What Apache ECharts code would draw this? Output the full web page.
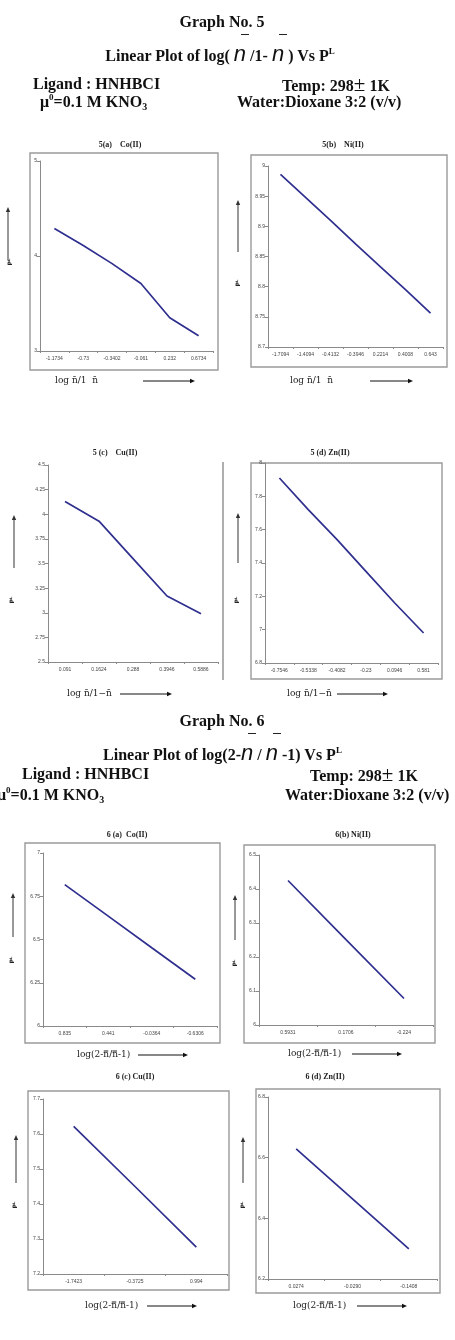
<!DOCTYPE html>
<html>
<head>
<meta charset="utf-8">
<title>Graph No. 5 / Graph No. 6</title>
<script src="https://cdn.jsdelivr.net/npm/echarts@6/dist/echarts.min.js"></script>
<style>
  html, body { margin: 0; padding: 0; background: #fff; }
  #wrap { position: relative; width: 455px; height: 1340px; overflow: hidden; }
  #chart { position: absolute; left: 0; top: 0; width: 455px; height: 1340px; }
  .hd {
    position: absolute; white-space: nowrap; color: #111;
    font-family: 'Liberation Serif', 'Times New Roman', serif;
    font-weight: bold; font-size: 16px; line-height: 18px;
  }
  .n {
    position: relative; font-family: 'Liberation Sans', Arial, sans-serif;
    font-style: italic; font-weight: normal; font-size: 22px;
  }
  .n::before {
    content: ''; position: absolute; left: 7px; top: -7px; width: 8px;
    border-top: 1.5px solid #222;
  }
  .hd sup { font-size: 9px; vertical-align: 7px; line-height: 0; }
  .hd sub { font-size: 10px; vertical-align: -3px; line-height: 0; }
  .pm { font-weight: normal; font-size: 21px; }
</style>
</head>
<body>
<div id="wrap">
  <div id="chart"></div>

  <div class="hd" style="top:13px;left:0;width:444px;text-align:center">Graph No. 5</div>
  <div class="hd" style="top:45px;left:0;width:440px;text-align:center">Linear Plot of log( <span class="n">n</span> /1- <span class="n">n</span> ) Vs P<sup>L</sup></div>
  <div class="hd" style="top:75px;left:33px">Ligand : HNHBCI</div>
  <div class="hd" style="top:75px;left:282px">Temp: 298<span class="pm">±</span> 1K</div>
  <div class="hd" style="top:93px;left:40px">μ<sup>0</sup>=0.1 M KNO<sub>3</sub></div>
  <div class="hd" style="top:93px;left:237px">Water:Dioxane 3:2 (v/v)</div>

  <div class="hd" style="top:712px;left:0;width:444px;text-align:center">Graph No. 6</div>
  <div class="hd" style="top:744px;left:0;width:445px;text-align:center">Linear Plot of log(2-<span class="n">n</span> / <span class="n">n</span> -1) Vs P<sup>L</sup></div>
  <div class="hd" style="top:765px;left:22px">Ligand : HNHBCI</div>
  <div class="hd" style="top:765px;left:310px">Temp: 298<span class="pm">±</span> 1K</div>
  <div class="hd" style="top:786px;left:-3px">μ<sup>0</sup>=0.1 M KNO<sub>3</sub></div>
  <div class="hd" style="top:786px;left:285px">Water:Dioxane 3:2 (v/v)</div>
</div>

<script>
// values
const cats5a = ['-1.1734', '-0.73', '-0.3402', '-0.061', '0.232', '0.6734']
const pl5a = [4.29, 4.11, 3.92, 3.71, 3.35, 3.16]

const cats5b = ['-1.7094', '-1.4094', '-0.4132', '-0.3946', '0.2214', '0.4008', '0.643']
const pl5b = [8.986, 8.948, 8.910, 8.871, 8.833, 8.795, 8.756]

const cats5c = ['0.091', '0.1624', '0.288', '0.3946', '0.5886']
const pl5c = [4.13, 3.93, 3.55, 3.17, 2.99]

const cats5d = ['-0.7546', '-0.5338', '-0.4082', '-0.23', '0.0946', '0.581']
const pl5d = [7.91, 7.72, 7.54, 7.35, 7.16, 6.98]

const cats6a = ['0.835', '0.441', '-0.0364', '-0.6306']
const pl6a = [6.817, 6.635, 6.452, 6.27]

const cats6b = ['0.5931', '0.1706', '-0.224']
const pl6b = [6.425, 6.251, 6.078]

const cats6c = ['-1.7423', '-0.3725', '0.994']
const pl6c = [7.622, 7.45, 7.277]

const cats6d = ['0.0274', '-0.0290', '-0.1408']
const pl6d = [6.629, 6.464, 6.299]

// y axis [min, max, interval] for each plot
const yAx5a = [3, 5, 1]
const yAx5b = [8.7, 9, 0.05]
const yAx5c = [2.5, 4.5, 0.25]
const yAx5d = [6.8, 8, 0.2]
const yAx6a = [6, 7, 0.25]
const yAx6b = [6, 6.5, 0.1]
const yAx6c = [7.2, 7.7, 0.1]
const yAx6d = [6.2, 6.8, 0.2]

const xName5 = 'log n̄/1  n̄'
const xName5cd = 'log n̄/1−n̄'
const xName6 = 'log(2-n̿/n̿-1)'

// layout of each panel (grid = left, top, width, height)
const panels = [
  { title: '5(a)    Co(II)', cats: cats5a, vals: pl5a, y: yAx5a,
    grid: [40, 161, 173, 190], frame: [30, 153, 188, 217], tpos: [120, 145],
    pname: [10, 262], parrow: [8, 260, 207], xname: xName5, xpos: [55, 381], xarrow: [143, 195, 381] },
  { title: '5(b)    Ni(II)', cats: cats5b, vals: pl5b, y: yAx5b,
    grid: [268, 166, 175, 181], frame: [251, 155, 196, 212], tpos: [343, 145],
    pname: [238, 283], parrow: [238, 252, 200], xname: xName5, xpos: [290, 381], xarrow: [370, 413, 381] },
  { title: '5 (c)    Cu(II)', cats: cats5c, vals: pl5c, y: yAx5c,
    grid: [48, 465, 170, 197], rline: [223, 462, 680], tpos: [115, 453],
    pname: [12, 600], parrow: [14, 568, 515], xname: xName5cd, xpos: [67, 694], xarrow: [120, 172, 694] },
  { title: '5 (d) Zn(II)', cats: cats5d, vals: pl5d, y: yAx5d,
    grid: [265, 463, 173, 200], frame: [251, 463, 191, 216], tpos: [330, 453],
    pname: [237, 600], parrow: [238, 563, 513], xname: xName5cd, xpos: [287, 694], xarrow: [337, 388, 694] },
  { title: '6 (a)  Co(II)', cats: cats6a, vals: pl6a, y: yAx6a,
    grid: [43, 853, 174, 173], frame: [25, 843, 195, 200], tpos: [127, 835],
    pname: [12, 960], parrow: [13, 937, 893], xname: xName6, xpos: [77, 1055], xarrow: [138, 188, 1055] },
  { title: '6(b) Ni(II)', cats: cats6b, vals: pl6b, y: yAx6b,
    grid: [259, 855, 174, 170], frame: [244, 845, 191, 198], tpos: [353, 835],
    pname: [235, 963], parrow: [235, 940, 895], xname: xName6, xpos: [288, 1054], xarrow: [352, 402, 1054] },
  { title: '6 (c) Cu(II)', cats: cats6c, vals: pl6c, y: yAx6c,
    grid: [43, 1099, 184, 175], frame: [28, 1091, 201, 199], tpos: [135, 1077],
    pname: [15, 1205], parrow: [16, 1183, 1135], xname: xName6, xpos: [85, 1306], xarrow: [147, 197, 1306] },
  { title: '6 (d) Zn(II)', cats: cats6d, vals: pl6d, y: yAx6d,
    grid: [268, 1097, 169, 182], frame: [256, 1089, 184, 204], tpos: [325, 1077],
    pname: [243, 1205], parrow: [243, 1183, 1137], xname: xName6, xpos: [293, 1306], xarrow: [357, 407, 1306] }
]

const axisGray = '#8a8a8a'
const lineBlue = '#2f2f8f'

function arrow(x1, y1, x2, y2, color) {
  const ang = Math.atan2(y2 - y1, x2 - x1)
  const L = 5, W = 2.2
  const bx = x2 - L * Math.cos(ang), by = y2 - L * Math.sin(ang)
  const px = -Math.sin(ang) * W, py = Math.cos(ang) * W
  return [
    { type: 'line', shape: { x1: x1, y1: y1, x2: bx, y2: by }, style: { stroke: color, lineWidth: 1 } },
    { type: 'polygon', shape: { points: [[x2, y2], [bx + px, by + py], [bx - px, by - py]] }, style: { fill: color } }
  ]
}

const grids = [], xAxes = [], yAxes = [], series = [], graphic = []

panels.forEach((p, i) => {
  grids.push({ left: p.grid[0], top: p.grid[1], width: p.grid[2], height: p.grid[3] })
  xAxes.push({
    gridIndex: i, type: 'category', data: p.cats, boundaryGap: true,
    axisLine: { lineStyle: { color: axisGray, width: 1 } },
    axisTick: { show: true, length: 2, lineStyle: { color: axisGray } },
    axisLabel: { interval: 0, fontSize: 5, color: '#444', margin: 5, fontFamily: 'Liberation Sans' },
    splitLine: { show: false }
  })
  yAxes.push({
    gridIndex: i, type: 'value', min: p.y[0], max: p.y[1], interval: p.y[2],
    axisLine: { show: true, lineStyle: { color: axisGray, width: 1 } },
    axisTick: { show: true, length: 3, lineStyle: { color: axisGray } },
    axisLabel: { fontSize: 5, color: '#444', margin: 3, fontFamily: 'Liberation Sans' },
    splitLine: { show: false }
  })
  series.push({
    type: 'line', xAxisIndex: i, yAxisIndex: i, data: p.vals,
    showSymbol: false, symbol: 'none',
    lineStyle: { color: lineBlue, width: 1.7 }
  })

  if (p.frame) {
    graphic.push({
      type: 'rect', shape: { x: p.frame[0], y: p.frame[1], width: p.frame[2], height: p.frame[3] },
      style: { fill: 'none', stroke: '#9a9a9a', lineWidth: 1.4 }
    })
  }
  if (p.rline) {
    graphic.push({
      type: 'line', shape: { x1: p.rline[0], y1: p.rline[1], x2: p.rline[0], y2: p.rline[2] },
      style: { stroke: '#9a9a9a', lineWidth: 1.6 }
    })
  }
  graphic.push({
    type: 'text', x: p.tpos[0], y: p.tpos[1],
    style: { text: p.title, fill: '#222', font: 'bold 8px "Liberation Serif"', textAlign: 'center', textVerticalAlign: 'middle' }
  })
  graphic.push({
    type: 'text', x: p.pname[0], y: p.pname[1], rotation: Math.PI / 2,
    style: { text: 'Pᴸ', fill: '#222', font: 'bold 6px "DejaVu Sans"', textAlign: 'center', textVerticalAlign: 'middle' }
  })
  graphic.push(...arrow(p.parrow[0], p.parrow[1], p.parrow[0], p.parrow[2], '#333'))
  graphic.push({
    type: 'text', x: p.xpos[0], y: p.xpos[1],
    style: { text: p.xname, fill: '#222', font: '9px "DejaVu Serif"', textAlign: 'left', textVerticalAlign: 'middle' }
  })
  graphic.push(...arrow(p.xarrow[0], p.xarrow[2], p.xarrow[1], p.xarrow[2], '#111'))
})

const chart = echarts.init(document.getElementById('chart'), null, { renderer: 'canvas' })
chart.setOption({
  animation: false,
  backgroundColor: '#fff',
  grid: grids,
  xAxis: xAxes,
  yAxis: yAxes,
  series: series,
  graphic: graphic
})
</script>
</body>
</html>
